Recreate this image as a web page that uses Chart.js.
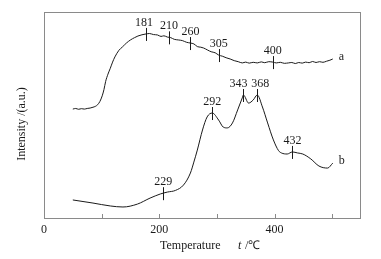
<!DOCTYPE html>
<html>
<head>
<meta charset="utf-8">
<script src="https://cdn.jsdelivr.net/npm/chart.js@4/dist/chart.umd.min.js"></script>
<style>
html,body{margin:0;padding:0;background:#fff;}
#wrap{width:381px;height:259px;position:relative;}
</style>
</head>
<body>
<div id="wrap"><canvas id="c" width="381" height="259"></canvas></div>
<script>
// Curve a (temperature, intensity a.u.)
const tempA = [50,55,60,65,70,75,80,85,89,93,97,101,104,107,111,115,119,123,130,136,143,150,157,163,170,177,183,190,197,203,208,214,220,226,233,240,247,254,260,266,272,277,284,290,297,303,310,316,323,330,337,344,350,356,363,370,377,383,390,397,403,410,417,424,430,436,442,448,454,460,466,472,478,484,490,496,501];
const intA = [53.1,53.4,53.0,53.3,53.1,53.4,53.6,54.0,54.4,55.2,56.8,59.5,62.5,66.5,70.0,72.8,75.8,78.3,81.5,83.1,85.0,86.5,87.6,88.4,89.0,89.4,89.6,89.1,88.9,88.2,88.5,87.9,87.6,86.8,86.5,86.2,85.4,85.0,84.6,83.3,83.0,82.6,81.6,80.8,80.3,79.2,78.6,77.9,77.3,76.5,76.0,75.4,75.8,75.3,75.7,75.4,75.9,75.5,76.0,75.8,75.4,75.7,75.2,75.4,75.6,75.1,75.6,75.3,75.8,75.5,76.1,75.6,76.0,75.7,76.2,76.7,77.3];
// Curve b
const tempB = [50,85,115,137,162,184,202,214,228,242,254,260,266,275,283,292,303,311,318,327,336,344,346,355,363,370,379,388,398,407,412,422,431,440,449,463,477,492,501];
const intB = [9.2,7.7,6.3,5.8,7.2,10.1,12.1,13.0,13.8,16.4,22.2,27.5,33.3,43.0,49.3,51.2,47.8,44.4,44.0,46.4,52.7,58.5,59.9,56.0,57.5,59.9,54.1,46.4,38.2,33.0,31.9,31.4,32.4,31.9,31.4,29.0,25.6,24.6,27.0];
// Peak markers
const markA = [177,217,254,303,397];
const markALabels = ['181','210','260','305','400'];
const markB = [207,292,346,370,431];
const markBLabels = ['229','292','343','368','432'];
// Axis ticks
const xMin = 0, xMax = 550, xStep = 100;
const xLabelled = [0,200,400];
const minorTicks = [100,200,300,400,500];

const FONT = '"Liberation Serif","Times New Roman",serif';
const INK = '#1a1a1a';
const AXIS = '#8a8a8a';
// label nudges (px) so neighbouring labels do not collide
const labelShiftB = [0,0,-5,3,0];
const labelShiftA = [-2,0,0,0,0];

const decor = {
  id:'decor',
  afterDatasetsDraw(chart){
    const ctx = chart.ctx, xs = chart.scales.x, ca = chart.chartArea;
    ctx.save();
    ctx.strokeStyle = AXIS; ctx.lineWidth = 1;
    ctx.strokeRect(Math.round(ca.left)+0.5, Math.round(ca.top)+0.5, Math.round(ca.right-ca.left)-1, Math.round(ca.bottom-ca.top)-1);
    ctx.beginPath();
    minorTicks.forEach(v=>{
      const px = Math.round(xs.getPixelForValue(v))+0.5;
      ctx.moveTo(px, ca.bottom-1); ctx.lineTo(px, ca.bottom-5);
    });
    ctx.stroke();
    const sets = [{ds:0, xs:markA, labels:markALabels, sh:labelShiftA},{ds:1, xs:markB, labels:markBLabels, sh:labelShiftB}];
    ctx.strokeStyle = INK; ctx.fillStyle = INK; ctx.lineWidth = 1;
    ctx.font = '12px ' + FONT; ctx.textAlign = 'center'; ctx.textBaseline = 'alphabetic';
    sets.forEach(s=>{
      const pts = chart.getDatasetMeta(s.ds).data;
      s.xs.forEach((mx,i)=>{
        const px = xs.getPixelForValue(mx);
        let py = null;
        for(let k=0;k<pts.length-1;k++){
          const a=pts[k], b=pts[k+1];
          if(a.x<=px && b.x>=px){ py = a.y + (b.y-a.y)*(px-a.x)/(b.x-a.x); break; }
        }
        if(py===null) return;
        const lx = Math.round(px)+0.5;
        ctx.beginPath(); ctx.moveTo(lx, py-6); ctx.lineTo(lx, py+7); ctx.stroke();
        ctx.fillText(s.labels[i], px + s.sh[i], py-8);
      });
      const last = pts[pts.length-1];
      ctx.textAlign = 'left';
      ctx.fillText(s.ds===0?'a':'b', last.x+6, last.y+1);
      ctx.textAlign = 'center';
    });
    ctx.textAlign = 'left'; ctx.textBaseline = 'middle';
    ctx.font = '12px ' + FONT;
    ctx.fillText('Temperature', 160, 246);
    ctx.font = 'italic 12px ' + FONT;
    ctx.fillText('t', 238, 246);
    ctx.font = '12px ' + FONT;
    ctx.fillText(' /\u2103', 242, 246);
    ctx.translate(22, 124); ctx.rotate(-Math.PI/2);
    ctx.textAlign = 'center';
    ctx.fillText('Intensity /(a.u.)', 0, 0);
    ctx.restore();
  }
};

new Chart(document.getElementById('c'), {
  type:'line',
  data:{
    datasets:[
      {data: tempA.map((t,i)=>({x:t,y:intA[i]})), borderColor:INK, borderWidth:1, pointRadius:0, cubicInterpolationMode:'monotone', fill:false},
      {data: tempB.map((t,i)=>({x:t,y:intB[i]})), borderColor:INK, borderWidth:1, pointRadius:0, cubicInterpolationMode:'monotone', fill:false}
    ]
  },
  options:{
    responsive:false, animation:false, devicePixelRatio:1,
    layout:{padding:{left:44, top:12, right:20, bottom:0}},
    plugins:{legend:{display:false}, tooltip:{enabled:false}},
    scales:{
      x:{type:'linear', min:xMin, max:xMax,
         grid:{display:false, drawTicks:false}, border:{display:false},
         ticks:{stepSize:xStep, padding:4, color:INK, font:{family:FONT, size:12}, maxRotation:0,
                callback:v=>xLabelled.includes(v)?String(v):''},
         afterFit:s=>{s.height=40;}},
      y:{min:0, max:100, display:true,
         grid:{display:false, drawTicks:false}, border:{display:false},
         ticks:{display:false},
         afterFit:s=>{s.width=0;}}
    }
  },
  plugins:[decor]
});
</script>
</body>
</html>
